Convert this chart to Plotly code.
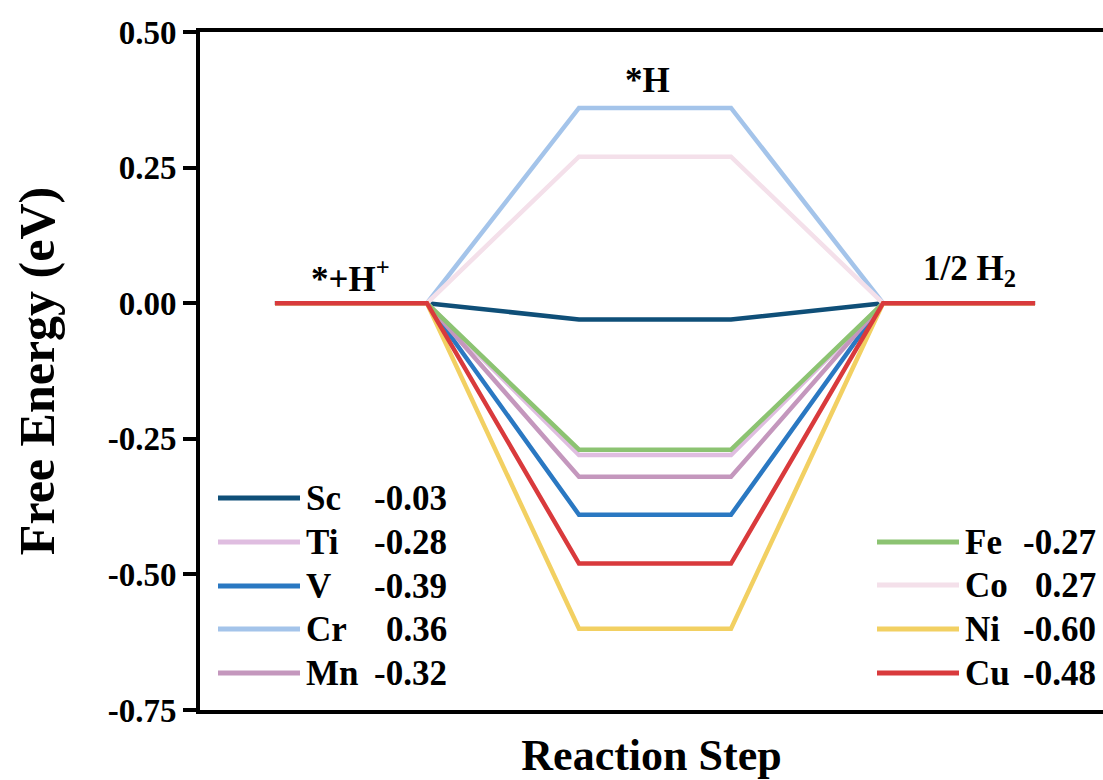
import plotly.graph_objects as go

# ---------------- data ----------------
metals = ["Sc", "Ti", "V", "Cr", "Mn", "Fe", "Co", "Ni", "Cu"]
dG_H = [-0.03, -0.28, -0.39, 0.36, -0.32, -0.27, 0.27, -0.60, -0.48]
colors = ["#0f4f78", "#dfbde0", "#2a78c2", "#a4c4ea", "#c497bd",
          "#8cc372", "#f4e0ea", "#f2d062", "#d93a3c"]
step_x = [0, 1, 2, 3, 4, 5]
state_labels = ["*+H<sup>+</sup>", "*H", "1/2 H<sub>2</sub>"]
state_x = [0.5, 2.45, 4.57]
state_label_y = [0.05, 0.41, 0.06]
y_ticks = [0.50, 0.25, 0.00, -0.25, -0.50, -0.75]
left_legend = ["Sc", "Ti", "V", "Cr", "Mn"]
right_legend = ["Fe", "Co", "Ni", "Cu"]

FONT = "Liberation Serif, Times New Roman, serif"
W, H = 1103, 780
L, R, T, B = 200, 0, 32, 70
PW, PH = W - L - R, H - T - B


def px(x):
    return (x - L) / PW


def py(y):
    return (H - B - y) / PH


fig = go.Figure()
for m, v, c in zip(metals, dG_H, colors):
    fig.add_trace(go.Scatter(
        x=step_x, y=[0, 0, v, v, 0, 0], mode="lines", name=m,
        line=dict(color=c, width=4.5), showlegend=False))

annotations = []
for lab, xc, yc in zip(state_labels, state_x, state_label_y):
    annotations.append(dict(x=xc, y=yc, xref="x", yref="y", text=lab,
                            showarrow=False, xanchor="center", yanchor="middle",
                            font=dict(family=FONT, size=35, color="black", weight="bold")))

shapes = []


def legend_block(names, x0, x1, xlab, xval, ys):
    for n, yy in zip(names, ys):
        i = metals.index(n)
        shapes.append(dict(type="line", xref="paper", yref="paper",
                           x0=px(x0), x1=px(x1), y0=py(yy), y1=py(yy),
                           line=dict(color=colors[i], width=5)))
        annotations.append(dict(x=px(xlab), y=py(yy), xref="paper", yref="paper",
                                text=n, showarrow=False, xanchor="left", yanchor="middle",
                                font=dict(family=FONT, size=35, color="black", weight="bold")))
        annotations.append(dict(x=px(xval), y=py(yy), xref="paper", yref="paper",
                                text=f"{dG_H[i]:.2f}", showarrow=False, xanchor="right",
                                yanchor="middle",
                                font=dict(family=FONT, size=35, color="black", weight="bold")))


legend_block(left_legend, 218, 300, 304, 449, [498, 542, 586, 629, 673])
legend_block(right_legend, 877, 959, 963, 1098, [542, 585, 629, 673])

fig.update_layout(
    width=W, height=H,
    margin=dict(l=L, r=R, t=T, b=B),
    paper_bgcolor="white", plot_bgcolor="white",
    showlegend=False,
    annotations=annotations, shapes=shapes,
    xaxis=dict(range=[-0.493, 5.447], showgrid=False, zeroline=False,
               showticklabels=False, ticks="", showline=True, linecolor="black",
               linewidth=4, mirror=True,
               title=dict(text="Reaction Step", standoff=28,
                          font=dict(family=FONT, size=44, color="black", weight="bold"))),
    yaxis=dict(range=[-0.75, 0.50], tickvals=y_ticks,
               ticktext=[f"{t:.2f}" for t in y_ticks],
               showgrid=False, zeroline=False, showline=True, linecolor="black",
               linewidth=4, ticks="outside", ticklen=13, tickwidth=4, tickcolor="black",
               tickfont=dict(family=FONT, size=33, color="black", weight="bold"),
               title=dict(text="Free Energy (eV)", standoff=38,
                          font=dict(family=FONT, size=50, color="black", weight="bold"))),
)

fig.write_html("out.html")
